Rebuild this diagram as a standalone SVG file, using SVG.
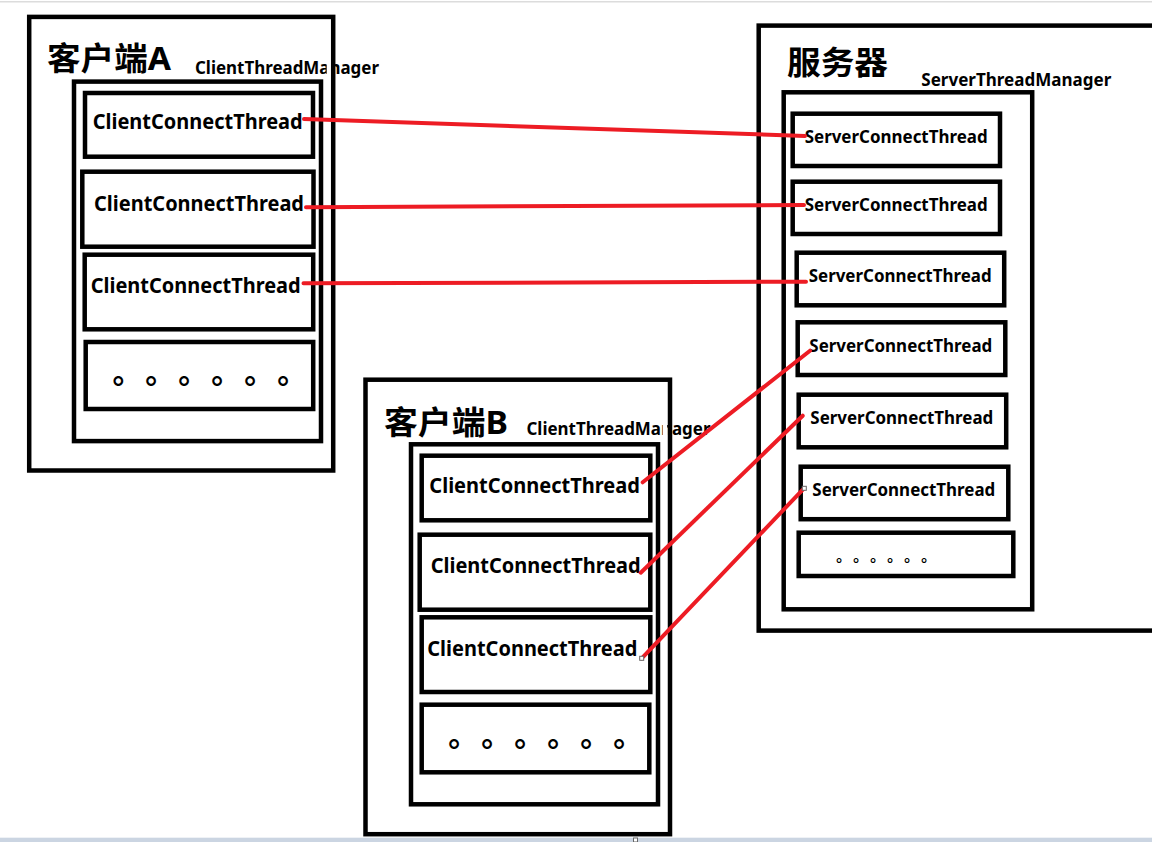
<svg xmlns="http://www.w3.org/2000/svg" width="1152" height="842" viewBox="0 0 1152 842">
<style>
.box{fill:none;stroke:#000;stroke-width:4.5}
.title{font-family:"Noto Sans","Noto Sans CJK SC",sans-serif;font-weight:700;font-size:32px;fill:#000}
.mgr{font-family:"Noto Sans","Open Sans",sans-serif;font-weight:700;font-size:17.5px;fill:#000}
.cct{font-family:"Noto Sans","Open Sans",sans-serif;font-weight:700;font-size:21px;fill:#000}
.sct{font-family:"Noto Sans","Open Sans",sans-serif;font-weight:700;font-size:18px;fill:#000}
.dots{font-family:"Noto Sans CJK TC",sans-serif;font-weight:700;font-size:30px;fill:#000;text-anchor:middle;dominant-baseline:central}
.sdots{font-family:"Noto Sans CJK TC",sans-serif;font-weight:700;font-size:15px;fill:#000;text-anchor:middle;dominant-baseline:central}
.link{fill:none;stroke:#ed1c24;stroke-width:4;stroke-linecap:round}
.handle{fill:#fff;stroke:#666;stroke-width:1}
</style>
<rect x="0" y="0" width="1152" height="842" fill="#fff"/>
<rect x="0" y="1" width="1152" height="1.5" fill="#dcdcdc"/>
<rect x="0" y="837.7" width="1152" height="4.3" fill="#cbd5e2"/>

<g id="clientA">
  <text class="title" x="47" y="70" textLength="124" lengthAdjust="spacingAndGlyphs">客户端A</text>
  <text class="mgr" x="195" y="74" textLength="184" lengthAdjust="spacingAndGlyphs">ClientThreadManager</text>
  <rect x="326.7" y="56" width="4.5" height="24" fill="#fff"/>
  <rect class="box" x="29.2" y="16.9" width="304" height="453.6"/>
  <g id="clientA-manager">
    <rect class="box" x="74" y="81.6" width="247" height="359.5"/>
  </g>
  <g id="clientA-thread1">
    <rect class="box" x="85" y="93" width="228" height="63.7"/>
    <text class="cct" x="92.7" y="129.3" textLength="210" lengthAdjust="spacingAndGlyphs">ClientConnectThread</text>
  </g>
  <g id="clientA-thread2">
    <rect class="box" x="82.3" y="171.7" width="231.2" height="75"/>
    <text class="cct" x="94" y="210.7" textLength="210" lengthAdjust="spacingAndGlyphs">ClientConnectThread</text>
  </g>
  <g id="clientA-thread3">
    <rect class="box" x="84.7" y="254.7" width="228.5" height="74.6"/>
    <text class="cct" x="90.7" y="293.3" textLength="210" lengthAdjust="spacingAndGlyphs">ClientConnectThread</text>
  </g>
  <g id="clientA-more">
    <rect class="box" x="85.7" y="342" width="227.5" height="67"/>
    <text class="dots" x="118.3 151 184 217 250 283" y="379.3">。。。。。。</text>
  </g>
</g>

<g id="clientB">
  <text class="title" x="384" y="433.5" textLength="124" lengthAdjust="spacingAndGlyphs">客户端B</text>
  <text class="mgr" x="526.5" y="434.5" textLength="184" lengthAdjust="spacingAndGlyphs">ClientThreadManager</text>
  <rect x="662.7" y="418" width="4.5" height="24" fill="#fff"/>
  <rect class="box" x="365.5" y="379.7" width="304.5" height="454.5"/>
  <g id="clientB-manager">
    <rect class="box" x="411" y="444.3" width="247" height="360"/>
  </g>
  <g id="clientB-thread1">
    <rect class="box" x="421.7" y="455.7" width="228.6" height="64.6"/>
    <text class="cct" x="429.3" y="493.3" textLength="210.7" lengthAdjust="spacingAndGlyphs">ClientConnectThread</text>
  </g>
  <g id="clientB-thread2">
    <rect class="box" x="419.7" y="534.7" width="230.6" height="75"/>
    <text class="cct" x="430.7" y="573.3" textLength="210" lengthAdjust="spacingAndGlyphs">ClientConnectThread</text>
  </g>
  <g id="clientB-thread3">
    <rect class="box" x="421.7" y="617.3" width="228.6" height="74.7"/>
    <text class="cct" x="427.3" y="656" textLength="210" lengthAdjust="spacingAndGlyphs">ClientConnectThread</text>
  </g>
  <g id="clientB-more">
    <rect class="box" x="421.7" y="704.7" width="227.6" height="67.6"/>
    <text class="dots" x="454 487 520 553 586 619" y="742.3">。。。。。。</text>
  </g>
</g>

<g id="server">
  <rect class="box" x="758.7" y="25.6" width="420" height="605"/>
  <text class="title" x="787" y="73.5" textLength="101" lengthAdjust="spacingAndGlyphs">服务器</text>
  <text class="mgr" x="921.3" y="86" textLength="190" lengthAdjust="spacingAndGlyphs">ServerThreadManager</text>
  <g id="server-manager">
    <rect class="box" x="783.7" y="92.3" width="248.5" height="517"/>
  </g>
  <g id="server-thread1">
    <rect class="box" x="792.7" y="113.7" width="207.3" height="52.3"/>
    <text class="sct" x="804.7" y="142.7" textLength="183" lengthAdjust="spacingAndGlyphs">ServerConnectThread</text>
  </g>
  <g id="server-thread2">
    <rect class="box" x="792.7" y="181.7" width="207.3" height="52.3"/>
    <text class="sct" x="804.7" y="210.7" textLength="183" lengthAdjust="spacingAndGlyphs">ServerConnectThread</text>
  </g>
  <g id="server-thread3">
    <rect class="box" x="796.7" y="252.7" width="207.5" height="52.6"/>
    <text class="sct" x="808.7" y="281.7" textLength="183" lengthAdjust="spacingAndGlyphs">ServerConnectThread</text>
  </g>
  <g id="server-thread4">
    <rect class="box" x="797.7" y="322.3" width="207.6" height="52.7"/>
    <text class="sct" x="809.3" y="351.7" textLength="183" lengthAdjust="spacingAndGlyphs">ServerConnectThread</text>
  </g>
  <g id="server-thread5">
    <rect class="box" x="798.7" y="394.7" width="207.5" height="52.6"/>
    <text class="sct" x="810.3" y="424" textLength="183" lengthAdjust="spacingAndGlyphs">ServerConnectThread</text>
  </g>
  <g id="server-thread6">
    <rect class="box" x="800.7" y="466.7" width="207.6" height="52.5"/>
    <text class="sct" x="812.3" y="496" textLength="183" lengthAdjust="spacingAndGlyphs">ServerConnectThread</text>
  </g>
  <g id="server-more">
    <rect class="box" x="798.7" y="532.7" width="214.6" height="43.3"/>
    <text class="sdots" x="839 856 873 890 907 924" y="559.3">。。。。。。</text>
  </g>
</g>

<g id="connectors">
  <line class="link" x1="304" y1="119" x2="805" y2="136"/>
  <line class="link" x1="306" y1="207.3" x2="804" y2="205"/>
  <line class="link" x1="303.5" y1="283.3" x2="806" y2="281.7"/>
  <line class="link" x1="642.7" y1="482.3" x2="810" y2="350.7"/>
  <line class="link" x1="640.7" y1="572.7" x2="802.7" y2="415.7"/>
  <line class="link" x1="641.7" y1="658.3" x2="804" y2="488.3"/>
  <rect class="handle" x="639.7" y="656.3" width="4" height="4"/>
  <rect class="handle" x="802.3" y="486.3" width="4" height="4"/>
  <rect class="handle" x="633.5" y="838" width="4" height="4"/>
</g>
</svg>
